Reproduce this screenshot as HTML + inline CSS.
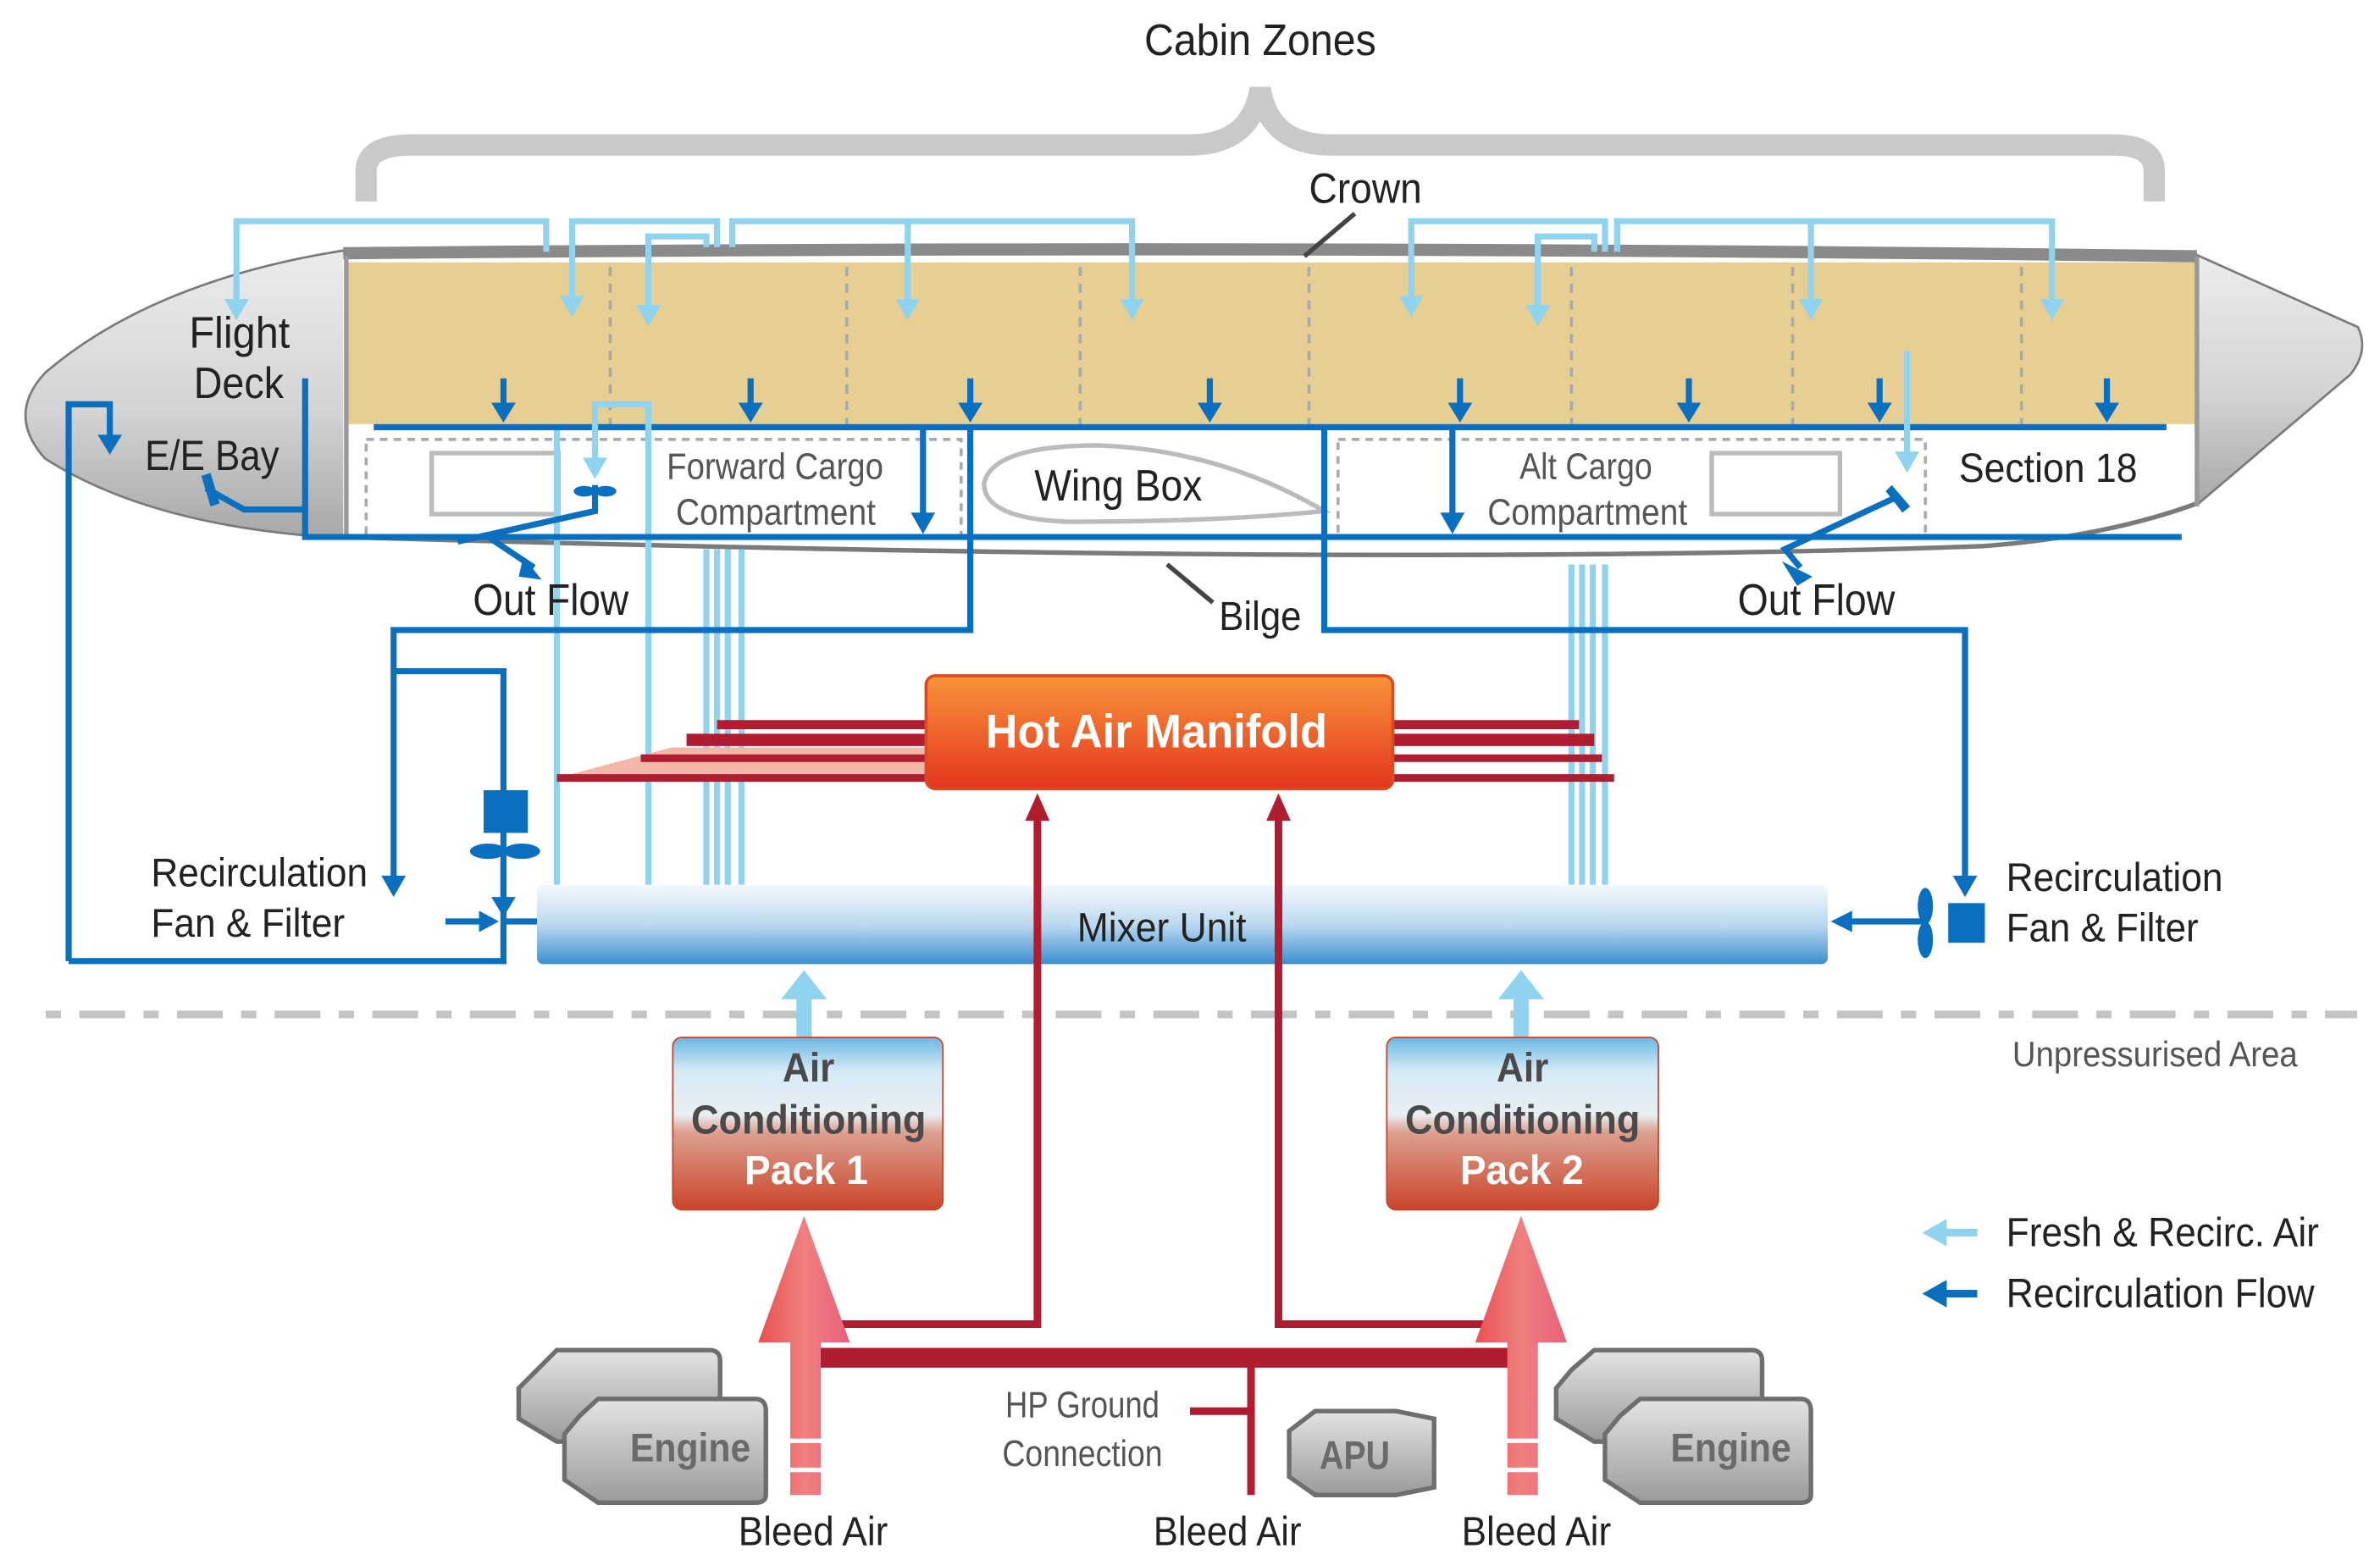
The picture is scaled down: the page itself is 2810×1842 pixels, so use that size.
<!DOCTYPE html>
<html><head><meta charset="utf-8"><style>
html,body{margin:0;padding:0;background:#fff;}
svg{display:block}
text{font-family:"Liberation Sans Narrow","Liberation Sans",sans-serif;}
</style></head><body>
<svg width="2810" height="1842" viewBox="0 0 1560 1022.6" preserveAspectRatio="none" xmlns="http://www.w3.org/2000/svg">
<defs>
<linearGradient id="hot" x1="0" y1="0" x2="0" y2="1"><stop offset="0" stop-color="#f7943a"/><stop offset="1" stop-color="#e5361e"/></linearGradient>
<linearGradient id="mix" x1="0" y1="0" x2="0" y2="1"><stop offset="0" stop-color="#f4f8fc"/><stop offset="0.5" stop-color="#bcd9ef"/><stop offset="1" stop-color="#3a8fd0"/></linearGradient>
<linearGradient id="pack" x1="0" y1="0" x2="0" y2="1"><stop offset="0" stop-color="#6bb7e2"/><stop offset="0.2" stop-color="#d6ebf7"/><stop offset="0.45" stop-color="#e8eef2"/><stop offset="0.55" stop-color="#dca090"/><stop offset="1" stop-color="#c9442a"/></linearGradient>
<linearGradient id="red" x1="0" y1="0" x2="1" y2="0"><stop offset="0" stop-color="#e85050"/><stop offset="0.5" stop-color="#f08080"/><stop offset="1" stop-color="#e8607a"/></linearGradient>
<linearGradient id="nose" x1="0" y1="0" x2="0" y2="1"><stop offset="0" stop-color="#ececec"/><stop offset="0.55" stop-color="#d4d4d4"/><stop offset="1" stop-color="#a8a8a8"/></linearGradient>
<linearGradient id="eng" x1="0" y1="0" x2="0" y2="1"><stop offset="0" stop-color="#e4e4e4"/><stop offset="1" stop-color="#9a9a9a"/></linearGradient>
</defs>

<!-- Cabin zones brace -->
<text x="750" y="36" font-size="29" textLength="152" lengthAdjust="spacingAndGlyphs" fill="#222">Cabin Zones</text>
<path d="M240,132 V112 Q240,95 270,95 H780 Q820,95 826,58 Q832,95 872,95 H1385 Q1412,95 1412,112 V132" fill="none" stroke="#c9c9c9" stroke-width="14"/>

<!-- fuselage -->
<path d="M225,165 Q830,158 1440,168 L1545,215 Q1552,230 1540,245 L1440,330 Q1380,352 1300,358 Q900,372 225,352 Q100,345 30,300 Q5,272 30,245 Q100,185 225,165 Z" fill="#fff" stroke="#7a7a7a" stroke-width="3"/>
<path d="M225,165 Q100,185 30,245 Q5,272 30,300 Q100,345 225,352 Z" fill="url(#nose)"/>
<path d="M1440,168 L1545,215 Q1552,230 1540,245 L1440,330 Z" fill="url(#nose)"/>
<path d="M225,166 Q830,160 1440,168" fill="none" stroke="#8a8a8a" stroke-width="8"/>
<rect x="227" y="172" width="1212" height="106" fill="#e7cf93"/>
<g stroke="#a9a9a9" stroke-width="2" stroke-dasharray="6,5">
<line x1="400" y1="175" x2="400" y2="278"/><line x1="555" y1="175" x2="555" y2="278"/><line x1="708" y1="175" x2="708" y2="278"/><line x1="858" y1="175" x2="858" y2="278"/><line x1="1030" y1="175" x2="1030" y2="278"/><line x1="1175" y1="175" x2="1175" y2="278"/><line x1="1325" y1="175" x2="1325" y2="278"/>
</g>
<line x1="227" y1="168" x2="227" y2="352" stroke="#999" stroke-width="3"/>
<line x1="1440" y1="168" x2="1440" y2="332" stroke="#999" stroke-width="3"/>
<line x1="245" y1="280" x2="1420" y2="280" stroke="#0a6fbf" stroke-width="4"/>

<!-- cargo boxes -->
<g fill="none" stroke="#a9a9a9" stroke-width="2" stroke-dasharray="5,4">
<rect x="240" y="288" width="390" height="64"/><rect x="877" y="288" width="385" height="64"/>
</g>
<rect x="283" y="297" width="83" height="40" fill="#fff" stroke="#bbb" stroke-width="3"/>
<rect x="1122" y="297" width="84" height="40" fill="#fff" stroke="#bbb" stroke-width="3"/>
<path d="M645,317 Q650,292 720,292 Q800,295 868,335 Q800,342 700,342 Q645,340 645,317 Z" fill="#fff" stroke="#bbb" stroke-width="3"/>
<text x="437" y="314" font-size="24" textLength="142" lengthAdjust="spacingAndGlyphs" fill="#555">Forward Cargo</text>
<text x="443" y="344" font-size="24" textLength="131" lengthAdjust="spacingAndGlyphs" fill="#555">Compartment</text>
<text x="996" y="314" font-size="24" textLength="87" lengthAdjust="spacingAndGlyphs" fill="#555">Alt Cargo</text>
<text x="975" y="344" font-size="24" textLength="131" lengthAdjust="spacingAndGlyphs" fill="#555">Compartment</text>
<text x="678" y="328" font-size="29" textLength="110" lengthAdjust="spacingAndGlyphs" fill="#222">Wing Box</text>
<text x="1284" y="316" font-size="27" textLength="117" lengthAdjust="spacingAndGlyphs" fill="#222">Section 18</text>
<text x="124" y="228" font-size="29" textLength="66" lengthAdjust="spacingAndGlyphs" fill="#222">Flight</text>
<text x="127" y="261" font-size="29" textLength="59" lengthAdjust="spacingAndGlyphs" fill="#222">Deck</text>
<text x="95" y="308" font-size="28" textLength="88" lengthAdjust="spacingAndGlyphs" fill="#222">E/E Bay</text>

<!-- crown / bilge -->
<text x="858" y="133" font-size="28" textLength="74" lengthAdjust="spacingAndGlyphs" fill="#222">Crown</text>
<line x1="888" y1="140" x2="855" y2="168" stroke="#444" stroke-width="3"/>
<line x1="765" y1="370" x2="795" y2="395" stroke="#444" stroke-width="3"/>
<text x="799" y="413" font-size="27" textLength="54" lengthAdjust="spacingAndGlyphs" fill="#222">Bilge</text>

<!-- light blue lines -->
<g fill="none" stroke="#8fd3ee" stroke-width="4">
<path d="M155,200 V145 H358 V165"/>
<path d="M375,198 V145 H470 V162"/>
<path d="M425,205 V155 H463 V162"/>
<path d="M480,162 V145 H742 V200"/>
<path d="M595,145 V200"/>
<path d="M925,198 V145 H1052 V165"/>
<path d="M1008,205 V155 H1045 V165"/>
<path d="M1060,165 V145 H1345 V200"/>
<path d="M1187,145 V200"/>
<path d="M1250,230 V300"/>
<path d="M365,580 V282"/>
<path d="M425,580 V265 H390 V305"/>
<path d="M463,580 V360 M470,580 V360 M477,580 V360 M486,580 V360"/>
<path d="M1030,580 V370 M1037,580 V370 M1044,580 V370 M1052,580 V370"/>
</g>
<g fill="#8fd3ee">
<path d="M147,196 L163,196 L155,210 Z"/><path d="M367,194 L383,194 L375,208 Z"/><path d="M417,200 L433,200 L425,214 Z"/>
<path d="M587,196 L603,196 L595,210 Z"/><path d="M734,196 L750,196 L742,210 Z"/>
<path d="M917,194 L933,194 L925,208 Z"/><path d="M1000,200 L1016,200 L1008,214 Z"/>
<path d="M1179,196 L1195,196 L1187,210 Z"/><path d="M1337,196 L1353,196 L1345,210 Z"/>
<path d="M1242,296 L1258,296 L1250,310 Z"/><path d="M382,300 L398,300 L390,314 Z"/>
</g>

<!-- dark blue down arrows in cabin -->
<g stroke="#0a6fbf" stroke-width="4" fill="#0a6fbf">
<line x1="330" y1="248" x2="330" y2="268"/><path d="M322,264 L338,264 L330,277 Z" stroke="none"/>
<line x1="492" y1="248" x2="492" y2="268"/><path d="M484,264 L500,264 L492,277 Z" stroke="none"/>
<line x1="636" y1="248" x2="636" y2="268"/><path d="M628,264 L644,264 L636,277 Z" stroke="none"/>
<line x1="793" y1="248" x2="793" y2="268"/><path d="M785,264 L801,264 L793,277 Z" stroke="none"/>
<line x1="957" y1="248" x2="957" y2="268"/><path d="M949,264 L965,264 L957,277 Z" stroke="none"/>
<line x1="1107" y1="248" x2="1107" y2="268"/><path d="M1099,264 L1115,264 L1107,277 Z" stroke="none"/>
<line x1="1232" y1="248" x2="1232" y2="268"/><path d="M1224,264 L1240,264 L1232,277 Z" stroke="none"/>
<line x1="1381" y1="248" x2="1381" y2="268"/><path d="M1373,264 L1389,264 L1381,277 Z" stroke="none"/>
</g>

<!-- dark blue plumbing -->
<g fill="none" stroke="#0a6fbf" stroke-width="4">
<path d="M200,248 V352 H1430"/>
<path d="M45,630 V265 H72 V290"/>
<path d="M45,630 H330 V540"/>
<path d="M200,334 H160 L135,320"/>
<path d="M605,282 V340"/>
<path d="M952,282 V340"/>
<path d="M636,282 V413 H258 V578"/>
<path d="M258,440 H330 V520"/>
<path d="M330,565 V592"/>
<path d="M292,604 H318"/>
<path d="M330,604 H352"/>
<path d="M868,282 V413 H1288 V578"/>
<path d="M1210,604 H1262"/>
<path d="M390,318 V335 L300,355"/>
<path d="M320,352 L350,372"/>
<path d="M1245,325 L1170,360 L1180,372"/>
</g>
<g fill="#0a6fbf">
<path d="M64,285 L80,285 L72,298 Z"/>
<path d="M597,336 L613,336 L605,350 Z"/><path d="M944,336 L960,336 L952,350 Z"/>
<path d="M250,574 L266,574 L258,588 Z"/><path d="M1280,574 L1296,574 L1288,588 Z"/>
<path d="M322,588 L338,588 L330,601 Z"/><path d="M314,597 L314,611 L327,604 Z"/>
<path d="M1214,597 L1214,611 L1200,604 Z"/>
<path d="M343,365 L355,380 L340,378 Z"/><path d="M1168,368 L1188,378 L1178,384 Z"/>
<rect x="317" y="518" width="29" height="28"/>
<ellipse cx="320" cy="558" rx="12" ry="5"/><ellipse cx="342" cy="558" rx="12" ry="5"/>
<ellipse cx="383" cy="322" rx="7" ry="3.5"/><ellipse cx="397" cy="322" rx="7" ry="3.5"/>
<rect x="1277" y="592" width="24" height="26"/>
<ellipse cx="1262" cy="594" rx="5" ry="12"/><ellipse cx="1262" cy="616" rx="5" ry="12"/>
<path d="M132,312 L138,310 L144,330 L138,332 Z"/>
<path d="M1240,318 L1252,332 L1247,336 L1236,322 Z"/>
</g>
<text x="310" y="403" font-size="29" textLength="102" lengthAdjust="spacingAndGlyphs" fill="#222">Out Flow</text>
<text x="1139" y="403" font-size="29" textLength="103" lengthAdjust="spacingAndGlyphs" fill="#222">Out Flow</text>
<text x="99" y="581" font-size="26" textLength="142" lengthAdjust="spacingAndGlyphs" fill="#222">Recirculation</text>
<text x="99" y="614" font-size="26" textLength="127" lengthAdjust="spacingAndGlyphs" fill="#222">Fan &amp; Filter</text>
<text x="1315" y="584" font-size="26" textLength="142" lengthAdjust="spacingAndGlyphs" fill="#222">Recirculation</text>
<text x="1315" y="617" font-size="26" textLength="126" lengthAdjust="spacingAndGlyphs" fill="#222">Fan &amp; Filter</text>

<!-- red manifold lines -->
<path d="M365,510 L440,490 L607,490 V510 Z" fill="#f3b7a8"/>
<g stroke="#b01c30" fill="none">
<path d="M365,510 H607" stroke-width="5"/>
<path d="M420,497 H607" stroke-width="5"/>
<path d="M450,485 H607" stroke-width="8"/>
<path d="M470,475 H607" stroke-width="6"/>
<path d="M913,510 H1058" stroke-width="5"/>
<path d="M913,497 H1050" stroke-width="5"/>
<path d="M913,485 H1045" stroke-width="8"/>
<path d="M913,475 H1035" stroke-width="6"/>
</g>
<rect x="607" y="443" width="306" height="74" rx="6" fill="url(#hot)" stroke="#d84a20" stroke-width="2"/>
<text x="646" y="490" font-size="31" font-weight="bold" textLength="224" lengthAdjust="spacingAndGlyphs" fill="#fff">Hot Air Manifold</text>

<!-- mixer -->
<rect x="352" y="580" width="846" height="52" rx="4" fill="url(#mix)"/>
<text x="706" y="617" font-size="27" textLength="111" lengthAdjust="spacingAndGlyphs" fill="#222">Mixer Unit</text>

<line x1="30" y1="665" x2="1545" y2="665" stroke="#c4c4c4" stroke-width="5" stroke-dasharray="10,12,30,12"/>
<text x="1319" y="699" font-size="23" textLength="187" lengthAdjust="spacingAndGlyphs" fill="#555">Unpressurised Area</text>

<!-- red plumbing -->
<g fill="none" stroke="#b01c30" stroke-width="5">
<path d="M680,530 V868 H535"/>
<path d="M838,530 V868 H995"/>
<path d="M820,890 V980"/>
<path d="M780,925 H820"/>
</g>
<path d="M535,890 H995" stroke="#b01c30" stroke-width="13"/>
<path d="M672,538 L680,520 L688,538 Z" fill="#b01c30"/>
<path d="M830,538 L838,520 L846,538 Z" fill="#b01c30"/>

<!-- light blue up arrows to mixer -->
<g fill="#8fd3ee"><rect x="522" y="650" width="10" height="32"/><path d="M512,655 L527,636 L542,655 Z"/>
<rect x="992" y="650" width="10" height="32"/><path d="M982,655 L997,636 L1012,655 Z"/></g>

<!-- packs -->
<rect x="441" y="680" width="177" height="113" rx="6" fill="url(#pack)" stroke="#c9442a" stroke-width="1"/>
<rect x="909" y="680" width="178" height="113" rx="6" fill="url(#pack)" stroke="#c9442a" stroke-width="1"/>
<g font-size="27" font-weight="bold">
<text x="513" y="709" textLength="34" lengthAdjust="spacingAndGlyphs" fill="#4a4a4a">Air</text>
<text x="453" y="743" textLength="154" lengthAdjust="spacingAndGlyphs" fill="#4a4a4a">Conditioning</text>
<text x="488" y="776" textLength="81" lengthAdjust="spacingAndGlyphs" fill="#fff">Pack 1</text>
<text x="981" y="709" textLength="34" lengthAdjust="spacingAndGlyphs" fill="#4a4a4a">Air</text>
<text x="921" y="743" textLength="154" lengthAdjust="spacingAndGlyphs" fill="#4a4a4a">Conditioning</text>
<text x="957" y="776" textLength="81" lengthAdjust="spacingAndGlyphs" fill="#fff">Pack 2</text>
</g>

<!-- big red arrows -->
<g fill="url(#red)">
<path d="M518,980 V880 H497 L527,797 L557,880 H538 V980 Z"/>
<path d="M988,980 V880 H967 L997,797 L1027,880 H1008 V980 Z"/>
</g>
<g fill="#fff"><rect x="515" y="943" width="25" height="3"/><rect x="515" y="962" width="25" height="3"/><rect x="985" y="943" width="25" height="3"/><rect x="985" y="962" width="25" height="3"/></g>

<!-- engines -->
<g stroke="#6e6e6e" stroke-width="3" fill="url(#eng)">
<path d="M352,898 L365,885 H465 Q472,885 472,892 V945 H365 L340,930 V910 Z"/>
<path d="M380,928 L392,917 H495 Q502,917 502,925 V980 Q502,985 495,985 H392 L370,970 V940 Z"/>
<path d="M1030,898 L1045,885 H1148 Q1155,885 1155,892 V945 H1045 L1020,930 V910 Z"/>
<path d="M1062,928 L1075,917 H1180 Q1187,917 1187,925 V980 Q1187,985 1180,985 H1075 L1052,970 V940 Z"/>
<path d="M845,938 L862,925 H915 L940,930 V975 L915,980 H862 L845,968 Z"/>
</g>
<g font-size="26" font-weight="bold" fill="#6a6a6a">
<text x="413" y="958" textLength="79" lengthAdjust="spacingAndGlyphs">Engine</text>
<text x="1095" y="958" textLength="79" lengthAdjust="spacingAndGlyphs">Engine</text>
<text x="865" y="963" textLength="46" lengthAdjust="spacingAndGlyphs">APU</text>
</g>
<text x="659" y="929" font-size="24" textLength="101" lengthAdjust="spacingAndGlyphs" fill="#555">HP Ground</text>
<text x="657" y="961" font-size="24" textLength="105" lengthAdjust="spacingAndGlyphs" fill="#555">Connection</text>
<g font-size="27" fill="#222">
<text x="484" y="1013" textLength="98" lengthAdjust="spacingAndGlyphs">Bleed Air</text>
<text x="756" y="1013" textLength="97" lengthAdjust="spacingAndGlyphs">Bleed Air</text>
<text x="958" y="1013" textLength="98" lengthAdjust="spacingAndGlyphs">Bleed Air</text>
</g>

<!-- legend -->
<g stroke-width="5" fill="none"><line x1="1270" y1="808" x2="1296" y2="808" stroke="#8fd3ee"/><line x1="1270" y1="848" x2="1296" y2="848" stroke="#0a6fbf"/></g>
<path d="M1260,808 L1276,799 L1276,817 Z" fill="#8fd3ee"/>
<path d="M1260,848 L1276,839 L1276,857 Z" fill="#0a6fbf"/>
<text x="1315" y="817" font-size="27" textLength="205" lengthAdjust="spacingAndGlyphs" fill="#222">Fresh &amp; Recirc. Air</text>
<text x="1315" y="857" font-size="27" textLength="202" lengthAdjust="spacingAndGlyphs" fill="#222">Recirculation Flow</text>
</svg>
</body></html>
